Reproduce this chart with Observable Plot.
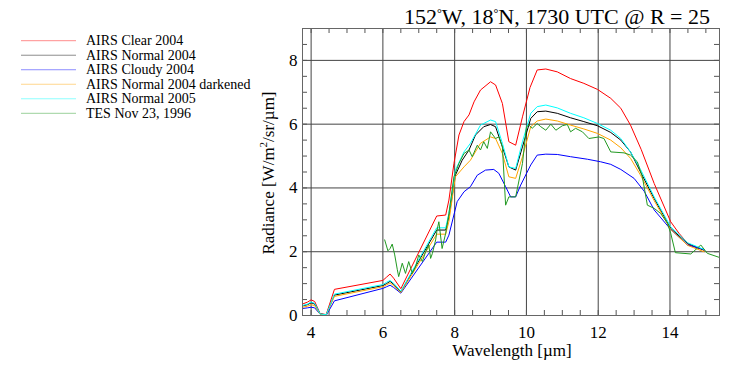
<!DOCTYPE html>
<html><head><meta charset="utf-8">
<script src="https://cdn.jsdelivr.net/npm/d3@7"></script>
<script src="https://cdn.jsdelivr.net/npm/@observablehq/plot@0.6"></script>
<style>
body{margin:0;background:#fff;}
#wrap{position:relative;width:747px;height:374px;overflow:hidden;font-family:"Liberation Serif","Times New Roman",serif;}
#wrap svg{position:absolute;left:0;top:0;}
</style>
</head><body><div id="wrap"></div>
<script>
// ---------- data ----------
const seriesNames = ["AIRS Clear 2004","AIRS Normal 2004","AIRS Cloudy 2004","AIRS Normal 2004 darkened","AIRS Normal 2005","TES Nov 23, 1996"];
const seriesColors = ["#ff0000","#000000","#0000ff","#ffa500","#00ffff","#229922"];

const airsClear2004 = [[3.76,0.36],[3.9,0.42],[4.0,0.49],[4.1,0.44],[4.25,0.06],[4.42,0.03],[4.65,0.82],[6.0,1.1],[6.1,1.2],[6.2,1.3],[6.3,1.17],[6.5,0.84],[7.5,3.12],[7.75,3.15],[7.84,3.62],[7.98,4.77],[8.12,5.66],[8.26,6.08],[8.4,6.29],[8.54,6.7],[8.72,7.07],[9.0,7.33],[9.14,7.23],[9.33,6.65],[9.51,5.45],[9.7,5.34],[9.89,6.23],[10.1,7.15],[10.3,7.7],[10.54,7.73],[10.86,7.64],[11.23,7.43],[11.6,7.28],[11.98,7.09],[12.35,6.81],[12.63,6.5],[12.9,5.97],[13.2,5.2],[13.56,4.14],[14.02,2.94],[14.25,2.58],[14.53,2.21],[14.95,2.05]];
const airsNormal2004 = [[3.76,0.3],[3.9,0.34],[4.0,0.4],[4.1,0.36],[4.25,0.05],[4.42,0.02],[4.65,0.64],[6.0,0.94],[6.1,1.0],[6.2,1.07],[6.3,0.98],[6.5,0.74],[7.5,2.68],[7.75,2.68],[7.84,3.1],[8.02,4.4],[8.21,4.87],[8.4,5.19],[8.58,5.66],[8.81,5.92],[9.0,5.99],[9.14,5.92],[9.33,5.29],[9.51,4.66],[9.7,4.56],[9.89,5.29],[10.12,6.18],[10.3,6.39],[10.54,6.41],[10.86,6.34],[11.23,6.2],[11.6,6.08],[11.98,5.95],[12.35,5.74],[12.63,5.5],[12.9,5.13],[13.18,4.5],[13.56,3.67],[14.02,2.73],[14.49,2.26],[14.95,2.05]];
const airsCloudy2004 = [[3.76,0.22],[3.9,0.24],[4.0,0.26],[4.1,0.24],[4.25,0.04],[4.42,0.0],[4.65,0.46],[6.0,0.85],[6.1,0.9],[6.2,0.95],[6.3,0.88],[6.5,0.7],[7.5,2.3],[7.75,2.3],[7.84,2.52],[8.07,3.57],[8.26,3.88],[8.44,4.04],[8.63,4.4],[8.86,4.56],[9.09,4.58],[9.23,4.46],[9.42,4.04],[9.56,3.72],[9.7,3.72],[9.84,4.09],[10.12,4.72],[10.3,5.03],[10.54,5.06],[10.86,5.05],[11.23,4.98],[11.7,4.9],[12.07,4.82],[12.35,4.74],[12.63,4.58],[13.0,4.3],[13.28,3.9],[13.56,3.31],[14.02,2.7],[14.49,2.21],[14.95,2.07]];
const airsNormal2004Darkened = [[3.76,0.26],[3.9,0.29],[4.0,0.34],[4.1,0.31],[4.25,0.04],[4.42,0.02],[4.65,0.6],[6.0,0.9],[6.1,0.96],[6.2,1.02],[6.3,0.94],[6.5,0.72],[7.5,2.55],[7.75,2.55],[7.84,2.95],[8.02,4.35],[8.26,4.66],[8.44,4.87],[8.72,5.4],[9.0,5.6],[9.14,5.55],[9.33,5.08],[9.51,4.35],[9.7,4.3],[9.89,4.98],[10.12,5.92],[10.3,6.1],[10.54,6.16],[10.86,6.1],[11.23,5.97],[11.6,5.85],[11.98,5.71],[12.35,5.5],[12.63,5.26],[12.9,4.93],[13.18,4.4],[13.56,3.6],[14.02,2.7],[14.49,2.2],[14.95,2.0]];
const airsNormal2005 = [[3.76,0.31],[3.9,0.36],[4.0,0.42],[4.1,0.38],[4.25,0.05],[4.42,0.02],[4.65,0.67],[6.0,0.97],[6.1,1.04],[6.2,1.1],[6.3,1.01],[6.5,0.76],[7.5,2.75],[7.75,2.75],[7.84,3.2],[8.02,4.56],[8.26,5.13],[8.44,5.4],[8.72,5.97],[9.0,6.13],[9.14,6.08],[9.33,5.4],[9.51,4.66],[9.7,4.61],[9.89,5.45],[10.12,6.34],[10.3,6.55],[10.54,6.6],[10.86,6.51],[11.23,6.34],[11.6,6.2],[11.98,6.02],[12.35,5.81],[12.63,5.55],[12.9,5.13],[13.18,4.58],[13.56,3.72],[14.02,2.78],[14.49,2.28],[14.95,2.07]];
const tesNov1996 = [[6.05,2.37],[6.14,2.03],[6.2,2.1],[6.26,2.24],[6.33,1.9],[6.4,1.45],[6.44,1.22],[6.54,1.64],[6.63,1.32],[6.72,1.69],[6.82,1.32],[6.91,1.53],[7.0,1.9],[7.1,1.69],[7.19,2.0],[7.28,2.21],[7.33,1.79],[7.38,1.95],[7.47,2.37],[7.51,2.68],[7.56,2.94],[7.65,2.1],[7.75,2.58],[7.84,3.2],[7.98,4.35],[8.12,4.77],[8.26,5.08],[8.4,5.19],[8.49,4.98],[8.63,5.34],[8.72,5.19],[8.81,5.45],[8.91,5.24],[9.0,5.76],[9.14,5.55],[9.23,5.6],[9.33,5.29],[9.42,3.46],[9.51,3.72],[9.7,3.72],[9.89,4.77],[10.0,5.92],[10.07,5.97],[10.16,5.87],[10.3,6.02],[10.4,5.92],[10.54,5.81],[10.68,6.0],[10.82,5.81],[11.0,5.95],[11.14,5.99],[11.23,5.76],[11.37,5.87],[11.56,5.76],[11.74,5.55],[12.02,5.6],[12.16,5.55],[12.35,5.13],[12.72,5.1],[12.9,5.03],[13.09,4.82],[13.23,4.35],[13.37,3.46],[13.56,3.36],[13.74,3.2],[13.93,2.89],[14.02,2.58],[14.15,1.97],[14.58,1.93],[14.86,2.21],[15.04,1.95],[15.38,1.82]];

const xMajorTicks = [4,6,8,10,12,14];
const yMajorTicks = [0,2,4,6,8];
const xMinorTicks = d3.range(4, 15.01, 0.5);
const yMinorTicks = d3.range(0.5, 8.51, 0.5);
const xDomain = [3.76, 15.38];
const yDomain = [0, 9];
const titleText = ["152", "W, 18", "N, 1730 UTC @ R = 25"];
const xLabel = "Wavelength [µm]";
const yLabelParts = ["Radiance [W/m", "2", "/sr/µm]"];

// ---------- build table ----------
const allSeries = [airsClear2004, airsNormal2004, airsCloudy2004, airsNormal2004Darkened, airsNormal2005, tesNov1996];
const table = allSeries.flatMap((s, i) => s.map(([w, r]) => ({series: seriesNames[i], w, r})));

const W = 747, H = 374, mL = 302, mR = 28, mT = 28, mB = 59;
const tickPx = 5;
const kx = (W - mL - mR) / (xDomain[1] - xDomain[0]);
const ky = (H - mT - mB) / (yDomain[1] - yDomain[0]);
const tx = tickPx / kx, ty = tickPx / ky;
const tickStyle = {stroke: "#555", strokeWidth: 1};

const chart = Plot.plot({
  width: W, height: H,
  marginLeft: mL, marginRight: mR, marginTop: mT, marginBottom: mB,
  style: {fontFamily: "'Liberation Serif','Times New Roman',serif", fontSize: "17px", color: "#000", background: "transparent"},
  x: {domain: xDomain},
  y: {domain: yDomain},
  color: {domain: seriesNames, range: seriesColors},
  marks: [
    Plot.ruleX(xMajorTicks, {x: d => d, stroke: "#444", strokeWidth: 1}),
    Plot.ruleY(yMajorTicks.filter(d => d > 0), {y: d => d, stroke: "#444", strokeWidth: 1}),
    Plot.ruleX(xMinorTicks, {x: d => d, y1: yDomain[0], y2: yDomain[0] + ty, ...tickStyle}),
    Plot.ruleX(xMinorTicks, {x: d => d, y1: yDomain[1] - ty, y2: yDomain[1], ...tickStyle}),
    Plot.ruleY(yMinorTicks, {y: d => d, x1: xDomain[0], x2: xDomain[0] + tx, ...tickStyle}),
    Plot.ruleY(yMinorTicks, {y: d => d, x1: xDomain[1] - tx, x2: xDomain[1], ...tickStyle}),
    Plot.axisX({ticks: xMajorTicks, tickSize: 0, tickPadding: 10, label: null, fontSize: 17}),
    Plot.axisY({ticks: yMajorTicks, tickSize: 0, tickPadding: 5, label: null, fontSize: 17}),
    Plot.line(table, {x: "w", y: "r", z: "series", stroke: "series", strokeWidth: 1}),
    Plot.frame({stroke: "#666", strokeWidth: 1})
  ]
});
document.getElementById("wrap").appendChild(chart);

// ---------- overlay: title, legend, axis titles ----------
const ov = d3.select("#wrap").append("svg")
  .attr("width", W).attr("height", H)
  .style("font-family", "'Liberation Serif','Times New Roman',serif");

const t = ov.append("text").attr("x", 710).attr("y", 24).attr("text-anchor", "end").attr("font-size", 22);
t.append("tspan").text(titleText[0]);
t.append("tspan").attr("font-size", 12).attr("dy", -7).text("°");
t.append("tspan").attr("dy", 7).text(titleText[1]);
t.append("tspan").attr("font-size", 12).attr("dy", -7).text("°");
t.append("tspan").attr("dy", 7).text(titleText[2]);

const lg = ov.append("g");
seriesNames.forEach((name, i) => {
  const y = 40.7 + i * 14.52;
  lg.append("line").attr("x1", 21).attr("x2", 76).attr("y1", y).attr("y2", y)
    .attr("stroke", seriesColors[i]).attr("stroke-opacity", 0.45).attr("stroke-width", 1);
  lg.append("text").attr("x", 86).attr("y", y + 4.6).attr("font-size", 14).text(name);
});

ov.append("text").attr("x", 512).attr("y", 356).attr("text-anchor", "middle").attr("font-size", 17).text(xLabel);

const yl = ov.append("text").attr("transform", "translate(274,173) rotate(-90)").attr("text-anchor", "middle").attr("font-size", 17);
yl.append("tspan").text(yLabelParts[0]);
yl.append("tspan").attr("font-size", 11).attr("dy", -7).text(yLabelParts[1]);
yl.append("tspan").attr("dy", 7).text(yLabelParts[2]);
</script>
</body></html>
